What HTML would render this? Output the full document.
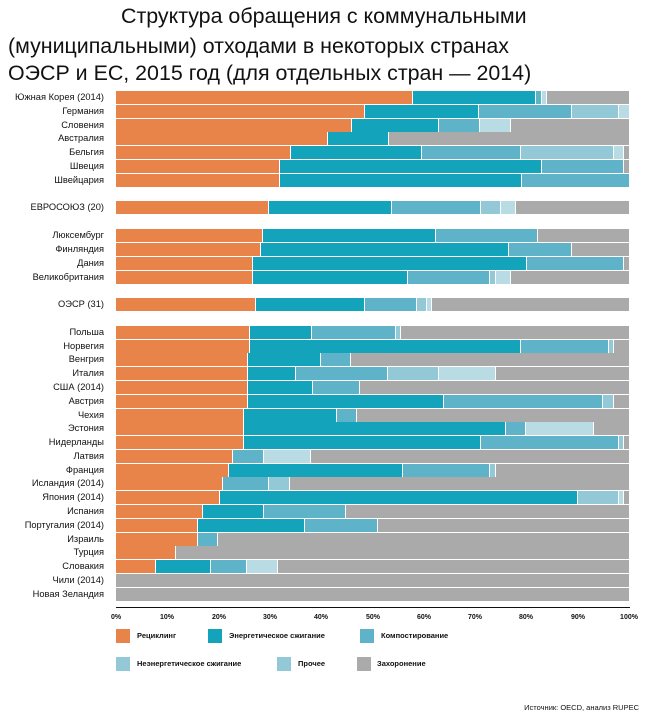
<!DOCTYPE html>
<html><head><meta charset="utf-8"><style>
body{margin:0;width:645px;height:715px;background:#fff;position:relative;overflow:hidden;font-family:"Liberation Sans","DejaVu Sans",sans-serif;color:#111}
.t{position:absolute;font-size:21.4px;white-space:nowrap;line-height:24px}
.l{position:absolute;right:541px;font-size:9.3px;white-space:nowrap;line-height:13px}
.r{position:absolute;left:116px;width:513px;height:12.6px;background:#aaaaaa;display:flex}
.r i{display:block;height:100%;box-sizing:border-box;border-right:1px solid #fff}
.a{background:#e8844a}.b{background:#13a3bb}.c{background:#5fb3c8}.d{background:#93c8d6}.e{background:#b9dce4}
.x{position:absolute;top:614px;font-size:7px;font-weight:bold;transform:translateX(-50%)}
.sw{position:absolute;width:14px;height:14px}
.lg{position:absolute;font-size:7.5px;font-weight:bold;line-height:14px}
</style></head><body>
<div class="t" style="left:121px;top:4px">Структура обращения с коммунальными</div>
<div class="t" style="left:8px;top:34px">(муниципальными) отходами в некоторых странах</div>
<div class="t" style="left:8px;top:61px">ОЭСР и ЕС, 2015 год (для отдельных стран — 2014)</div>

<div class="l" style="top:91px">Южная Корея (2014)</div>
<div class="r" style="top:91px"><i class="a" style="width:57.9%"></i><i class="b" style="width:24%"></i><i class="c" style="width:1.1%"></i><i class="e" style="width:1%"></i></div>
<div class="l" style="top:105px">Германия</div>
<div class="r" style="top:105px"><i class="a" style="width:48.5%"></i><i class="b" style="width:22.2%"></i><i class="c" style="width:18.1%"></i><i class="d" style="width:9.2%"></i><i class="e" style="width:2%;border:0"></i></div>
<div class="l" style="top:119px">Словения</div>
<div class="r" style="top:119px"><i class="a" style="width:46%"></i><i class="b" style="width:16.9%"></i><i class="c" style="width:8.1%"></i><i class="e" style="width:6%"></i></div>
<div class="l" style="top:132px">Австралия</div>
<div class="r" style="top:132px"><i class="a" style="width:41.4%"></i><i class="b" style="width:11.9%"></i></div>
<div class="l" style="top:146px">Бельгия</div>
<div class="r" style="top:146px"><i class="a" style="width:34.2%"></i><i class="b" style="width:25.4%"></i><i class="c" style="width:19.4%"></i><i class="d" style="width:18%"></i><i class="e" style="width:2%"></i></div>
<div class="l" style="top:160px">Швеция</div>
<div class="r" style="top:160px"><i class="a" style="width:31.9%"></i><i class="b" style="width:51.2%"></i><i class="c" style="width:15.9%"></i></div>
<div class="l" style="top:174px">Швейцария</div>
<div class="r" style="top:174px"><i class="a" style="width:31.9%"></i><i class="b" style="width:47.2%"></i><i class="c" style="width:20.9%;border:0"></i></div>

<div class="l" style="top:201px">ЕВРОСОЮЗ (20)</div>
<div class="r" style="top:201px"><i class="a" style="width:29.9%"></i><i class="b" style="width:24%"></i><i class="c" style="width:17.2%"></i><i class="d" style="width:3.9%"></i><i class="e" style="width:2.9%"></i></div>

<div class="l" style="top:229px">Люксембург</div>
<div class="r" style="top:229px"><i class="a" style="width:28.6%"></i><i class="b" style="width:33.7%"></i><i class="c" style="width:19.9%"></i></div>
<div class="l" style="top:243px">Финляндия</div>
<div class="r" style="top:243px"><i class="a" style="width:28.2%"></i><i class="b" style="width:48.5%"></i><i class="c" style="width:12.1%"></i></div>
<div class="l" style="top:257px">Дания</div>
<div class="r" style="top:257px"><i class="a" style="width:26.8%"></i><i class="b" style="width:53.3%"></i><i class="c" style="width:18.9%"></i></div>
<div class="l" style="top:271px">Великобритания</div>
<div class="r" style="top:271px"><i class="a" style="width:26.8%"></i><i class="b" style="width:30.2%"></i><i class="c" style="width:16%"></i><i class="d" style="width:1%"></i><i class="e" style="width:3%"></i></div>

<div class="l" style="top:298px">ОЭСР (31)</div>
<div class="r" style="top:298px"><i class="a" style="width:27.2%"></i><i class="b" style="width:21.3%"></i><i class="c" style="width:10.1%"></i><i class="d" style="width:2%"></i><i class="e" style="width:1%"></i></div>

<div class="l" style="top:326px">Польша</div>
<div class="r" style="top:326px"><i class="a" style="width:26.2%"></i><i class="b" style="width:12.1%"></i><i class="c" style="width:16.2%"></i><i class="d" style="width:1%"></i></div>
<div class="l" style="top:340px">Норвегия</div>
<div class="r" style="top:340px"><i class="a" style="width:26.2%"></i><i class="b" style="width:52.8%"></i><i class="c" style="width:17.1%"></i><i class="d" style="width:0.9%"></i></div>
<div class="l" style="top:353px">Венгрия</div>
<div class="r" style="top:353px"><i class="a" style="width:25.8%"></i><i class="b" style="width:14.1%"></i><i class="c" style="width:6%"></i></div>
<div class="l" style="top:367px">Италия</div>
<div class="r" style="top:367px"><i class="a" style="width:25.8%"></i><i class="b" style="width:9.2%"></i><i class="c" style="width:18%"></i><i class="d" style="width:9.9%"></i><i class="e" style="width:11.2%"></i></div>
<div class="l" style="top:381px">США (2014)</div>
<div class="r" style="top:381px"><i class="a" style="width:25.7%"></i><i class="b" style="width:12.8%"></i><i class="c" style="width:9%"></i></div>
<div class="l" style="top:395px">Австрия</div>
<div class="r" style="top:395px"><i class="a" style="width:25.8%"></i><i class="b" style="width:38.2%"></i><i class="c" style="width:31%"></i><i class="d" style="width:2%"></i></div>
<div class="l" style="top:409px">Чехия</div>
<div class="r" style="top:409px"><i class="a" style="width:25%"></i><i class="b" style="width:18%"></i><i class="c" style="width:3.9%"></i></div>
<div class="l" style="top:422px">Эстония</div>
<div class="r" style="top:422px"><i class="a" style="width:25%"></i><i class="b" style="width:51%"></i><i class="c" style="width:4%"></i><i class="e" style="width:13.2%"></i></div>
<div class="l" style="top:436px">Нидерланды</div>
<div class="r" style="top:436px"><i class="a" style="width:25%"></i><i class="b" style="width:46.1%"></i><i class="c" style="width:26.9%"></i><i class="d" style="width:1%"></i></div>
<div class="l" style="top:450px">Латвия</div>
<div class="r" style="top:450px"><i class="a" style="width:22.9%"></i><i class="c" style="width:6%"></i><i class="e" style="width:9.1%"></i></div>
<div class="l" style="top:464px">Франция</div>
<div class="r" style="top:464px"><i class="a" style="width:22%"></i><i class="b" style="width:33.9%"></i><i class="c" style="width:17.1%"></i><i class="d" style="width:1%"></i></div>
<div class="l" style="top:477px">Исландия (2014)</div>
<div class="r" style="top:477px"><i class="a" style="width:20.9%"></i><i class="c" style="width:9%"></i><i class="d" style="width:4%"></i></div>
<div class="l" style="top:491px">Япония (2014)</div>
<div class="r" style="top:491px"><i class="a" style="width:20.2%"></i><i class="b" style="width:69.8%"></i><i class="d" style="width:8%"></i><i class="e" style="width:1%"></i></div>
<div class="l" style="top:505px">Испания</div>
<div class="r" style="top:505px"><i class="a" style="width:16.9%"></i><i class="b" style="width:12%"></i><i class="c" style="width:16%"></i></div>
<div class="l" style="top:519px">Португалия (2014)</div>
<div class="r" style="top:519px"><i class="a" style="width:15.9%"></i><i class="b" style="width:21%"></i><i class="c" style="width:14.1%"></i></div>
<div class="l" style="top:533px">Израиль</div>
<div class="r" style="top:533px"><i class="a" style="width:15.9%"></i><i class="c" style="width:4%"></i></div>
<div class="l" style="top:546px">Турция</div>
<div class="r" style="top:546px"><i class="a" style="width:11.7%"></i></div>
<div class="l" style="top:560px">Словакия</div>
<div class="r" style="top:560px"><i class="a" style="width:7.7%"></i><i class="b" style="width:10.8%"></i><i class="c" style="width:7%"></i><i class="e" style="width:6.1%"></i></div>
<div class="l" style="top:574px">Чили (2014)</div>
<div class="r" style="top:574px"></div>
<div class="l" style="top:588px">Новая Зеландия</div>
<div class="r" style="top:588px"></div>

<div style="position:absolute;left:116px;top:607px;width:514px;height:1px;background:#111"></div>
<div class="x" style="left:116px">0%</div><div class="x" style="left:167px">10%</div><div class="x" style="left:219px">20%</div><div class="x" style="left:270px">30%</div><div class="x" style="left:321px">40%</div><div class="x" style="left:373px">50%</div><div class="x" style="left:424px">60%</div><div class="x" style="left:475px">70%</div><div class="x" style="left:526px">80%</div><div class="x" style="left:578px">90%</div><div class="x" style="left:629px">100%</div>

<div class="sw a" style="left:116px;top:629px"></div><div class="lg" style="left:137px;top:629px">Рециклинг</div>
<div class="sw b" style="left:208px;top:629px"></div><div class="lg" style="left:229px;top:629px">Энергетическое сжигание</div>
<div class="sw c" style="left:360px;top:629px"></div><div class="lg" style="left:381px;top:629px">Компостирование</div>
<div class="sw d" style="left:116px;top:657px"></div><div class="lg" style="left:137px;top:657px">Неэнергетическое сжигание</div>
<div class="sw d" style="left:277px;top:657px"></div><div class="lg" style="left:298px;top:657px">Прочее</div>
<div class="sw" style="left:357px;top:657px;background:#aaa"></div><div class="lg" style="left:377px;top:657px">Захоронение</div>

<div style="position:absolute;right:6px;top:703px;font-size:7.5px">Источник: OECD, анализ RUPEC</div>
</body></html>
